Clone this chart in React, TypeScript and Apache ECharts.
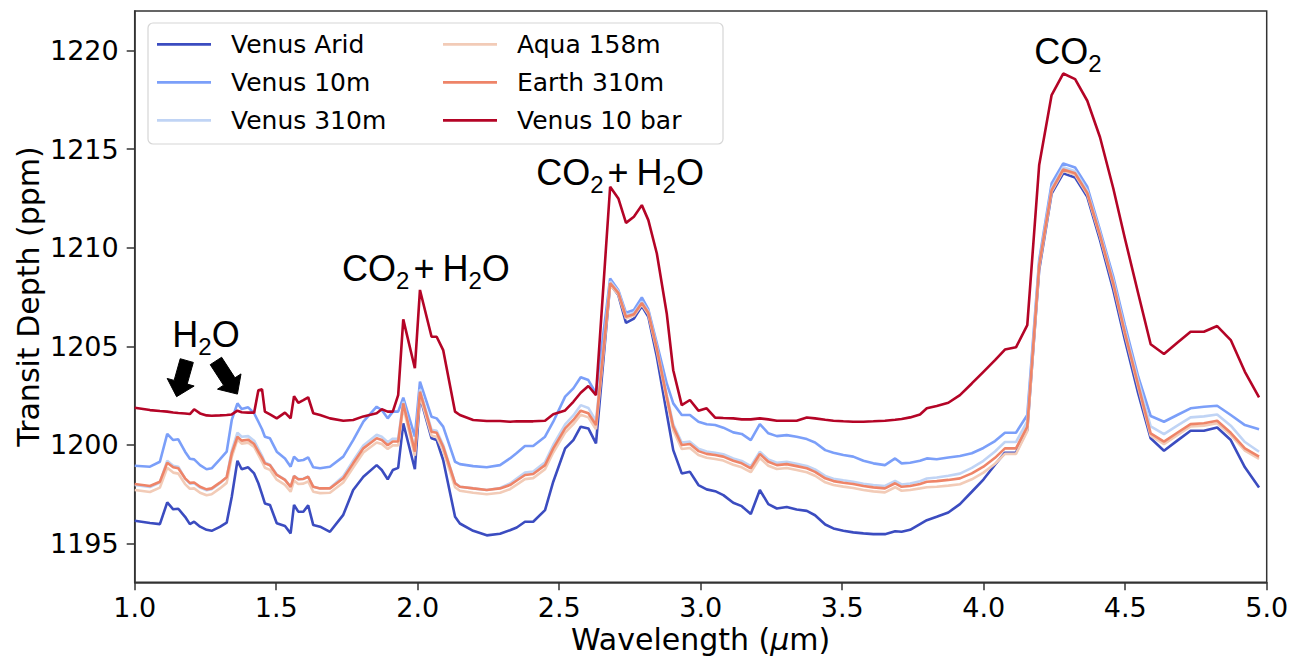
import React, { useEffect, useRef } from "react";
import * as echarts from "echarts";

// Wavelength grid (micrometres)
const wavelength = [
  1.000, 1.054, 1.089, 1.115, 1.136, 1.154, 1.178, 1.195, 1.210, 1.231,
  1.254, 1.272, 1.301, 1.325, 1.343, 1.363, 1.378, 1.401, 1.422, 1.437,
  1.450, 1.460, 1.478, 1.502, 1.531, 1.551, 1.563, 1.578, 1.596, 1.613,
  1.631, 1.655, 1.690, 1.737, 1.772, 1.808, 1.855, 1.873, 1.894, 1.912,
  1.931, 1.949, 1.990, 2.008, 2.049, 2.067, 2.090, 2.132, 2.149, 2.196,
  2.244, 2.291, 2.326, 2.350, 2.379, 2.408, 2.450, 2.479, 2.521, 2.550,
  2.576, 2.603, 2.630, 2.680, 2.709, 2.736, 2.764, 2.792, 2.815, 2.845,
  2.880, 2.903, 2.933, 2.962, 2.992, 3.021, 3.051, 3.080, 3.115, 3.145,
  3.177, 3.209, 3.239, 3.269, 3.304, 3.339, 3.375, 3.404, 3.440, 3.469,
  3.504, 3.539, 3.575, 3.610, 3.651, 3.687, 3.710, 3.740, 3.775, 3.799,
  3.834, 3.875, 3.916, 3.958, 3.999, 4.040, 4.075, 4.114, 4.154, 4.196,
  4.240, 4.281, 4.323, 4.366, 4.411, 4.458, 4.499, 4.546, 4.590, 4.637,
  4.684, 4.731, 4.778, 4.825, 4.873, 4.923, 4.973,
];

const venusArid = [
  1196.16, 1196.05, 1195.99, 1197.09, 1196.74, 1196.77, 1196.36, 1195.99, 1196.11, 1195.86,
  1195.70, 1195.65, 1195.85, 1196.06, 1197.38, 1199.20, 1198.77, 1198.87, 1198.56, 1198.06,
  1197.50, 1197.04, 1196.96, 1196.03, 1195.89, 1195.52, 1196.96, 1196.62, 1196.62, 1196.94,
  1195.94, 1195.86, 1195.60, 1196.46, 1197.72, 1198.39, 1198.98, 1198.73, 1198.26, 1198.73,
  1198.84, 1201.10, 1198.77, 1202.45, 1200.34, 1200.25, 1199.24, 1196.36, 1196.02, 1195.65,
  1195.42, 1195.50, 1195.68, 1195.82, 1196.11, 1196.11, 1196.70, 1198.14, 1199.83, 1200.25,
  1200.93, 1200.84, 1200.08, 1208.15, 1207.60, 1206.19, 1206.41, 1207.04, 1206.50, 1204.47,
  1201.60, 1199.74, 1198.56, 1198.64, 1197.97, 1197.75, 1197.66, 1197.46, 1197.07, 1196.90,
  1196.50, 1197.72, 1197.00, 1196.78, 1196.86, 1196.73, 1196.66, 1196.44, 1195.97, 1195.77,
  1195.65, 1195.57, 1195.52, 1195.48, 1195.48, 1195.63, 1195.60, 1195.70, 1195.99, 1196.19,
  1196.36, 1196.58, 1197.00, 1197.63, 1198.25, 1199.00, 1199.61, 1199.61, 1200.76, 1208.87,
  1212.75, 1213.77, 1213.56, 1212.58, 1210.38, 1207.85, 1205.32, 1202.62, 1200.34, 1199.71,
  1200.22, 1200.72, 1200.72, 1200.89, 1200.25, 1198.87, 1197.85,
];

const venus10m = [
  1198.95, 1198.90, 1199.15, 1200.56, 1200.25, 1200.29, 1199.66, 1199.30, 1199.27, 1198.98,
  1198.77, 1198.82, 1199.27, 1199.66, 1201.27, 1202.11, 1201.82, 1201.91, 1201.61, 1201.18,
  1200.80, 1200.42, 1200.34, 1199.66, 1199.32, 1198.90, 1199.41, 1199.20, 1199.24, 1199.37,
  1198.87, 1198.82, 1198.90, 1199.41, 1200.25, 1201.18, 1201.94, 1201.77, 1201.35, 1201.69,
  1201.69, 1202.40, 1200.42, 1203.21, 1201.43, 1201.35, 1200.93, 1199.15, 1199.03, 1198.93,
  1198.87, 1198.98, 1199.32, 1199.60, 1199.95, 1199.95, 1200.42, 1201.18, 1202.45, 1202.87,
  1203.43, 1203.29, 1202.62, 1208.44, 1207.85, 1206.70, 1206.84, 1207.48, 1206.87, 1205.15,
  1203.12, 1202.11, 1201.52, 1201.52, 1201.18, 1201.05, 1201.01, 1200.88, 1200.64, 1200.56,
  1200.25, 1201.06, 1200.59, 1200.45, 1200.50, 1200.42, 1200.30, 1200.13, 1199.74, 1199.61,
  1199.49, 1199.41, 1199.20, 1199.07, 1198.98, 1199.32, 1199.07, 1199.10, 1199.20, 1199.32,
  1199.28, 1199.37, 1199.44, 1199.58, 1199.85, 1200.20, 1200.62, 1200.62, 1201.52, 1209.37,
  1213.26, 1214.27, 1214.07, 1213.09, 1210.89, 1208.52, 1206.08, 1203.46, 1201.47, 1201.18,
  1201.52, 1201.86, 1201.94, 1201.99, 1201.52, 1201.01, 1200.80,
];

const venus310m = [
  1197.97, 1197.87, 1198.10, 1199.20, 1198.95, 1198.90, 1198.30, 1198.04, 1198.06, 1197.84,
  1197.71, 1197.76, 1198.06, 1198.36, 1199.72, 1200.62, 1200.42, 1200.45, 1200.22, 1199.80,
  1199.45, 1199.12, 1199.00, 1198.50, 1198.24, 1197.88, 1198.44, 1198.27, 1198.29, 1198.40,
  1197.88, 1197.80, 1197.82, 1198.42, 1199.20, 1199.98, 1200.52, 1200.42, 1200.14, 1200.32,
  1200.32, 1202.20, 1199.74, 1202.82, 1200.77, 1200.72, 1200.00, 1198.08, 1197.88, 1197.80,
  1197.72, 1197.82, 1198.05, 1198.30, 1198.60, 1198.66, 1199.13, 1200.00, 1201.05, 1201.50,
  1202.02, 1201.88, 1201.22, 1208.30, 1207.79, 1206.58, 1206.71, 1207.28, 1206.78, 1204.98,
  1202.56, 1201.05, 1200.13, 1200.17, 1199.81, 1199.67, 1199.61, 1199.53, 1199.32, 1199.19,
  1198.93, 1199.66, 1199.27, 1199.10, 1199.15, 1199.05, 1198.94, 1198.76, 1198.43, 1198.29,
  1198.21, 1198.14, 1198.04, 1197.97, 1197.92, 1198.18, 1198.00, 1198.05, 1198.16, 1198.30,
  1198.35, 1198.44, 1198.55, 1198.84, 1199.20, 1199.67, 1200.15, 1200.15, 1201.20, 1209.20,
  1213.02, 1214.08, 1213.88, 1212.89, 1210.76, 1208.33, 1205.85, 1203.24, 1200.95, 1200.55,
  1200.98, 1201.40, 1201.45, 1201.55, 1200.98, 1200.15, 1199.66,
];

const aqua158m = [
  1197.72, 1197.62, 1197.84, 1198.85, 1198.60, 1198.55, 1198.02, 1197.78, 1197.80, 1197.58,
  1197.45, 1197.50, 1197.80, 1198.08, 1199.40, 1200.27, 1200.07, 1200.12, 1199.90, 1199.50,
  1199.15, 1198.85, 1198.74, 1198.24, 1197.98, 1197.63, 1198.20, 1198.02, 1198.04, 1198.15,
  1197.63, 1197.56, 1197.58, 1198.10, 1198.86, 1199.62, 1200.13, 1200.05, 1199.80, 1199.98,
  1199.98, 1201.92, 1199.46, 1202.52, 1200.47, 1200.42, 1199.71, 1197.86, 1197.68, 1197.58,
  1197.50, 1197.58, 1197.76, 1197.99, 1198.27, 1198.32, 1198.77, 1199.62, 1200.63, 1201.06,
  1201.53, 1201.40, 1200.80, 1208.12, 1207.63, 1206.42, 1206.55, 1207.12, 1206.62, 1204.78,
  1202.30, 1200.75, 1199.80, 1199.85, 1199.49, 1199.35, 1199.29, 1199.21, 1199.00, 1198.87,
  1198.62, 1199.34, 1198.95, 1198.78, 1198.83, 1198.73, 1198.62, 1198.44, 1198.11, 1197.97,
  1197.89, 1197.82, 1197.72, 1197.65, 1197.60, 1197.86, 1197.68, 1197.72, 1197.80, 1197.86,
  1197.88, 1197.94, 1198.01, 1198.26, 1198.60, 1199.05, 1199.55, 1199.55, 1200.70, 1209.00,
  1212.85, 1213.90, 1213.70, 1212.71, 1210.56, 1208.10, 1205.59, 1202.92, 1200.47, 1200.04,
  1200.50, 1200.94, 1200.98, 1201.10, 1200.50, 1199.72, 1199.30,
];

const earth310m = [
  1198.02, 1197.92, 1198.14, 1199.10, 1198.87, 1198.82, 1198.31, 1198.08, 1198.10, 1197.88,
  1197.75, 1197.80, 1198.09, 1198.36, 1199.58, 1200.42, 1200.22, 1200.27, 1200.05, 1199.66,
  1199.35, 1199.07, 1198.97, 1198.48, 1198.23, 1197.88, 1198.42, 1198.26, 1198.28, 1198.39,
  1197.88, 1197.80, 1197.80, 1198.31, 1199.07, 1199.83, 1200.34, 1200.25, 1199.99, 1200.18,
  1200.18, 1202.11, 1199.66, 1202.70, 1200.67, 1200.62, 1199.91, 1198.06, 1197.88, 1197.80,
  1197.72, 1197.80, 1197.97, 1198.20, 1198.48, 1198.53, 1198.98, 1199.83, 1200.84, 1201.27,
  1201.74, 1201.61, 1201.01, 1208.21, 1207.71, 1206.50, 1206.63, 1207.20, 1206.70, 1204.89,
  1202.45, 1200.93, 1200.00, 1200.05, 1199.69, 1199.55, 1199.49, 1199.41, 1199.20, 1199.07,
  1198.82, 1199.54, 1199.15, 1198.98, 1199.03, 1198.93, 1198.82, 1198.64, 1198.31, 1198.17,
  1198.09, 1198.02, 1197.92, 1197.85, 1197.80, 1198.06, 1197.88, 1197.92, 1198.02, 1198.14,
  1198.17, 1198.23, 1198.31, 1198.56, 1198.90, 1199.35, 1199.83, 1199.83, 1200.93, 1209.11,
  1212.92, 1213.97, 1213.77, 1212.78, 1210.64, 1208.19, 1205.69, 1203.04, 1200.59, 1200.17,
  1200.62, 1201.06, 1201.10, 1201.23, 1200.62, 1199.83, 1199.41,
];

const venus10bar = [
  1201.89, 1201.77, 1201.72, 1201.69, 1201.65, 1201.62, 1201.60, 1201.57, 1201.81, 1201.60,
  1201.50, 1201.48, 1201.50, 1201.52, 1201.55, 1201.74, 1201.66, 1201.64, 1201.64, 1202.78,
  1202.82, 1201.69, 1201.55, 1201.35, 1201.64, 1201.35, 1202.48, 1202.14, 1202.28, 1202.42,
  1201.61, 1201.52, 1201.35, 1201.23, 1201.27, 1201.45, 1201.61, 1201.81, 1201.69, 1201.69,
  1202.53, 1206.37, 1203.89, 1207.86, 1205.49, 1205.49, 1204.81, 1201.69, 1201.52, 1201.27,
  1201.22, 1201.22, 1201.18, 1201.20, 1201.20, 1201.20, 1201.23, 1201.56, 1201.75, 1202.19,
  1202.65, 1202.99, 1202.53, 1213.09, 1212.50, 1211.26, 1211.57, 1212.16, 1211.40, 1209.71,
  1206.67, 1203.79, 1202.02, 1202.28, 1201.74, 1201.86, 1201.39, 1201.37, 1201.35, 1201.30,
  1201.30, 1201.35, 1201.30, 1201.23, 1201.23, 1201.23, 1201.39, 1201.35, 1201.28, 1201.23,
  1201.20, 1201.18, 1201.18, 1201.20, 1201.23, 1201.28, 1201.32, 1201.40, 1201.55, 1201.86,
  1201.98, 1202.14, 1202.53, 1203.12, 1203.71, 1204.30, 1204.84, 1204.95, 1206.08, 1214.19,
  1217.74, 1218.83, 1218.55, 1217.45, 1215.60, 1213.00, 1210.47, 1207.68, 1205.11, 1204.61,
  1205.18, 1205.74, 1205.74, 1206.03, 1205.32, 1203.71, 1202.41,
];

const seriesNames = ["Venus Arid", "Venus 10m", "Venus 310m", "Aqua 158m", "Earth 310m", "Venus 10 bar"];
const seriesColors = ["#3b4cc0", "#7b9ff9", "#c0d4f5", "#f2cbb7", "#ee8468", "#b40426"];
const yTicks = [1195, 1200, 1205, 1210, 1215, 1220];
const xTicks = [1.0, 1.5, 2.0, 2.5, 3.0, 3.5, 4.0, 4.5, 5.0];

type Part = { t: string; sub?: boolean; padL?: number; padR?: number };
const CO2_H2O: Part[] = [
  { t: "CO" },
  { t: "2", sub: true },
  { t: "+", padL: 4, padR: 8 },
  { t: "H" },
  { t: "2", sub: true },
  { t: "O" },
];
const annotations: { parts: Part[]; at: [number, number] }[] = [
  { parts: [{ t: "H" }, { t: "2", sub: true }, { t: "O" }], at: [1.252, 1204.97] },
  { parts: CO2_H2O, at: [2.029, 1208.31] },
  { parts: CO2_H2O, at: [2.715, 1213.18] },
  { parts: [{ t: "CO" }, { t: "2", sub: true }], at: [4.298, 1219.32] },
];
// arrows: [start wavelength, start ppm, tip wavelength, tip ppm]
const arrows: [number, number, number, number][] = [
  [1.184, 1204.28, 1.148, 1202.45],
  [1.287, 1204.26, 1.363, 1202.58],
];

const Y_MIN = 1193.04;
const Y_MAX = 1222.0;

export default function App() {
  const ref = useRef<HTMLDivElement>(null);
  useEffect(() => {
    if (!ref.current) return;
    const chart = echarts.init(ref.current, null, { renderer: "svg" });
    const data = [venusArid, venus10m, venus310m, aqua158m, earth310m, venus10bar];
    const axisColor = "#333";
    chart.setOption({
      animation: false,
      grid: {
        left: 134.7,
        right: 25.3,
        top: 11,
        bottom: 74.7,
        show: true,
        borderColor: axisColor,
        borderWidth: 1.5,
        backgroundColor: "transparent",
      },
      xAxis: {
        type: "value",
        min: 1,
        max: 5,
        interval: 0.5,
        axisLine: { show: true, onZero: false, lineStyle: { color: axisColor, width: 1.5 } },
        axisTick: { show: true, length: 8, customValues: xTicks, lineStyle: { color: axisColor, width: 1.5 } },
        axisLabel: {
          customValues: xTicks,
          color: "#000",
          fontFamily: "DejaVu Sans",
          fontSize: 27,
          margin: 12,
          formatter: (v: number) => v.toFixed(1),
        },
        splitLine: { show: false },
      },
      yAxis: {
        type: "value",
        min: Y_MIN,
        max: Y_MAX,
        axisLine: { show: true, onZero: false, lineStyle: { color: axisColor, width: 1.5 } },
        axisTick: { show: true, length: 8, customValues: yTicks, lineStyle: { color: axisColor, width: 1.5 } },
        axisLabel: {
          customValues: yTicks,
          color: "#000",
          fontFamily: "DejaVu Sans",
          fontSize: 27,
          margin: 16,
          formatter: (v: number) => String(Math.round(v)),
        },
        splitLine: { show: false },
      },
      series: data.map((d, i) => ({
        type: "line",
        name: seriesNames[i],
        data: wavelength.map((w, j) => [w, d[j]]),
        symbol: "none",
        smooth: false,
        clip: true,
        lineStyle: { color: seriesColors[i], width: 2.6 },
        itemStyle: { color: seriesColors[i] },
        z: 2 + i,
      })),
    });

    const canvas = document.createElement("canvas");
    const ctx = canvas.getContext("2d")!;
    const measure = (t: string, size: number) => {
      ctx.font = `${size}px "Liberation Sans"`;
      return ctx.measureText(t).width;
    };
    const graphics: any[] = [];
    const mainSize = 36;
    const subSize = 24;
    annotations.forEach((a) => {
      const p = chart.convertToPixel({ gridIndex: 0 }, a.at) as number[];
      const widths = a.parts.map(
        (pt) => measure(pt.t, pt.sub ? subSize : mainSize) + (pt.padL || 0) + (pt.padR || 0)
      );
      const total = widths.reduce((s, v) => s + v, 0);
      let x = p[0] - total / 2;
      a.parts.forEach((pt, i) => {
        const s = pt.sub ? subSize : mainSize;
        const base = pt.sub ? p[1] + 8 : p[1];
        graphics.push({
          type: "text",
          x: x + (pt.padL || 0),
          y: base - 0.3465 * s,
          z: 60,
          style: {
            text: pt.t,
            fontSize: s,
            fontFamily: "Liberation Sans",
            fill: "#000",
            align: "left",
            verticalAlign: "middle",
          },
        });
        x += widths[i];
      });
    });

    arrows.forEach((ar) => {
      const s = chart.convertToPixel({ gridIndex: 0 }, [ar[0], ar[1]]) as number[];
      const t = chart.convertToPixel({ gridIndex: 0 }, [ar[2], ar[3]]) as number[];
      const dx = t[0] - s[0];
      const dy = t[1] - s[1];
      const len = Math.hypot(dx, dy);
      const ux = dx / len;
      const uy = dy / len;
      const nx = -uy;
      const ny = ux;
      const hw = 6.8;
      const hh = 14;
      const hl = 15;
      const bx = t[0] - ux * hl;
      const by = t[1] - uy * hl;
      graphics.push({
        type: "polygon",
        z: 60,
        shape: {
          points: [
            [s[0] + nx * hw, s[1] + ny * hw],
            [bx + nx * hw, by + ny * hw],
            [bx + nx * hh, by + ny * hh],
            [t[0], t[1]],
            [bx - nx * hh, by - ny * hh],
            [bx - nx * hw, by - ny * hw],
            [s[0] - nx * hw, s[1] - ny * hw],
          ],
        },
        style: { fill: "#000", stroke: "#000", lineWidth: 1 },
      });
    });

    // Legend
    graphics.push({
      type: "rect",
      z: 70,
      shape: { x: 148, y: 23, width: 575, height: 121, r: 5 },
      style: { fill: "rgba(255,255,255,0.85)", stroke: "#d6d6d6", lineWidth: 1.2 },
    });
    const rowY = [44.3, 82.3, 120.3];
    const colX = [157, 443];
    seriesNames.forEach((name, i) => {
      const col = Math.floor(i / 3);
      const row = i % 3;
      const y = rowY[row];
      const x0 = colX[col];
      graphics.push({
        type: "line",
        z: 71,
        shape: { x1: x0, y1: y, x2: x0 + 54, y2: y },
        style: { stroke: seriesColors[i], lineWidth: 2.8 },
      });
      graphics.push({
        type: "text",
        z: 71,
        x: x0 + 74,
        y: y,
        style: {
          text: name,
          fontSize: 25,
          fontFamily: "DejaVu Sans",
          fill: "#000",
          align: "left",
          verticalAlign: "middle",
        },
      });
    });

    // Axis titles
    graphics.push({
      type: "text",
      z: 60,
      x: 28,
      y: 296.5,
      rotation: Math.PI / 2,
      style: {
        text: "Transit Depth (ppm)",
        fontSize: 30,
        fontFamily: "DejaVu Sans",
        fill: "#000",
        align: "center",
        verticalAlign: "middle",
      },
    });
    graphics.push({
      type: "text",
      z: 60,
      x: 700.7,
      y: 639,
      style: {
        text: "Wavelength ({i|μ}m)",
        fontSize: 30,
        fontFamily: "DejaVu Sans",
        fill: "#000",
        align: "center",
        verticalAlign: "middle",
        rich: {
          i: { fontStyle: "italic", fontSize: 30, fontFamily: "DejaVu Sans", fill: "#000" },
        },
      },
    });

    chart.setOption({ graphic: graphics });

    return () => {
      chart.dispose();
    };
  }, []);

  return (
    <div
      ref={ref}
      style={{ position: "fixed", left: 0, top: 0, width: 1292, height: 657, background: "#fff" }}
    />
  );
}
